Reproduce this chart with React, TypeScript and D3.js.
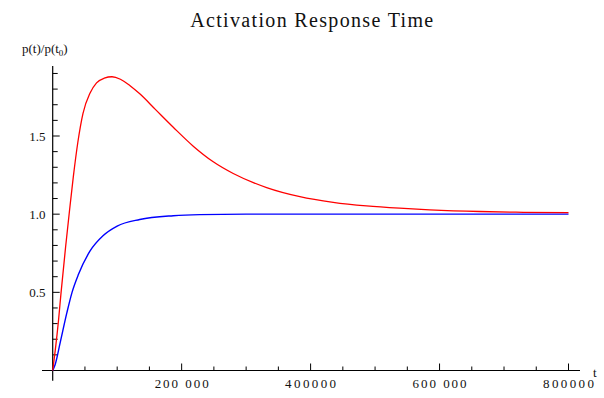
import React from "react";
import * as d3 from "d3";

const redT = [0, 4000, 9000, 13000, 20000, 26000, 32000, 39000, 47000, 58000, 68000, 80000, 92000, 105000, 120000, 135500, 158800, 187000, 218000, 249000, 280000, 331800, 383400, 435000, 486700, 538000, 584700, 662000, 730000, 800000];
const redV = [0, 0.13, 0.32, 0.5, 0.79, 1.02, 1.24, 1.46, 1.645, 1.775, 1.84, 1.87, 1.879, 1.863, 1.822, 1.768, 1.672, 1.556, 1.435, 1.335, 1.26, 1.17, 1.112, 1.076, 1.053, 1.038, 1.028, 1.017, 1.012, 1.01];
const blueT = [0, 3600, 11700, 22000, 30000, 40000, 58000, 78000, 100000, 135000, 187000, 228000, 300000, 400000, 500000, 600000, 700000, 800000];
const blueV = [0, 0.035, 0.18, 0.37, 0.5, 0.615, 0.765, 0.862, 0.924, 0.966, 0.99, 0.997, 1.0, 1.0, 1.0, 1.0, 1.0, 1.0];
const xMajor = [200000, 400000, 600000, 800000];
const xMajorLabels = ["200 000", "400000", "600 000", "800000"];
const yMajor = [0.5, 1.0, 1.5];
const yMajorLabels = ["0.5", "1.0", "1.5"];
const title = "Activation Response Time";

export default function App() {
  const x = d3.scaleLinear().domain([0, 800000]).range([52.7, 568.5]);
  const y = d3.scaleLinear().domain([0, 1.5]).range([370.5, 136]);
  const font = "'Liberation Serif', 'DejaVu Serif', serif";

  const xMinor = d3.range(50000, 800001, 50000).filter((v) => !xMajor.includes(v));
  const yMinor = d3.range(1, 20).map((i) => i / 10).filter((v) => !yMajor.some((m) => Math.abs(m - v) < 1e-9));

  const line = d3
    .line<[number, number]>()
    .x((d) => x(d[0]))
    .y((d) => y(d[1]))
    .curve(d3.curveMonotoneX);

  const redPts = redT.map((t, i) => [t, redV[i]] as [number, number]);
  const bluePts = blueT.map((t, i) => [t, blueV[i]] as [number, number]);

  return (
    <svg
      width={604}
      height={398}
      style={{ position: "absolute", left: 0, top: 0, background: "#fff" }}
      fontFamily={font}
    >
      <rect width={604} height={398} fill="#fff" />
      <text x={311.7} y={26.5} fontSize={20} textAnchor="middle" textLength={243} lengthAdjust="spacing" fill="#111">
        {title}
      </text>
      <text x={22} y={53} fontSize={13} fill="#111">
        p(t)/p(t<tspan fontSize={9} dy={3}>0</tspan>
        <tspan dy={-3}>)</tspan>
      </text>

      {/* axes */}
      <line x1={42} x2={580} y1={y(0)} y2={y(0)} stroke="#000" strokeWidth={1.2} />
      <line x1={x(0)} x2={x(0)} y1={66} y2={380.7} stroke="#000" strokeWidth={1.2} />

      {xMinor.map((v) => (
        <line key={"xm" + v} x1={x(v)} x2={x(v)} y1={y(0)} y2={y(0) - 4} stroke="#000" strokeWidth={1} />
      ))}
      {xMajor.map((v, i) => (
        <g key={"xM" + v}>
          <line x1={x(v)} x2={x(v)} y1={y(0)} y2={y(0) - 7} stroke="#000" strokeWidth={1} />
          <text x={x(v)} y={388} fontSize={13} textAnchor="middle" textLength={i === 1 || i === 3 ? 51 : 54} lengthAdjust="spacing" fill="#111">
            {xMajorLabels[i]}
          </text>
        </g>
      ))}
      <text x={593} y={377} fontSize={13} fill="#111">t</text>

      {yMinor.map((v) => (
        <line key={"ym" + v} x1={x(0)} x2={x(0) + 5} y1={y(v)} y2={y(v)} stroke="#000" strokeWidth={1} />
      ))}
      {yMajor.map((v, i) => (
        <g key={"yM" + v}>
          <line x1={x(0)} x2={x(0) + 7} y1={y(v)} y2={y(v)} stroke="#000" strokeWidth={1} />
          <text x={45.5} y={y(v)} dy="0.35em" fontSize={13} textAnchor="end" fill="#111">
            {yMajorLabels[i]}
          </text>
        </g>
      ))}

      <path d={line(bluePts) || ""} fill="none" stroke="#0000ff" strokeWidth={1.4} />
      <path d={line(redPts) || ""} fill="none" stroke="#ff0000" strokeWidth={1.3} />
    </svg>
  );
}
